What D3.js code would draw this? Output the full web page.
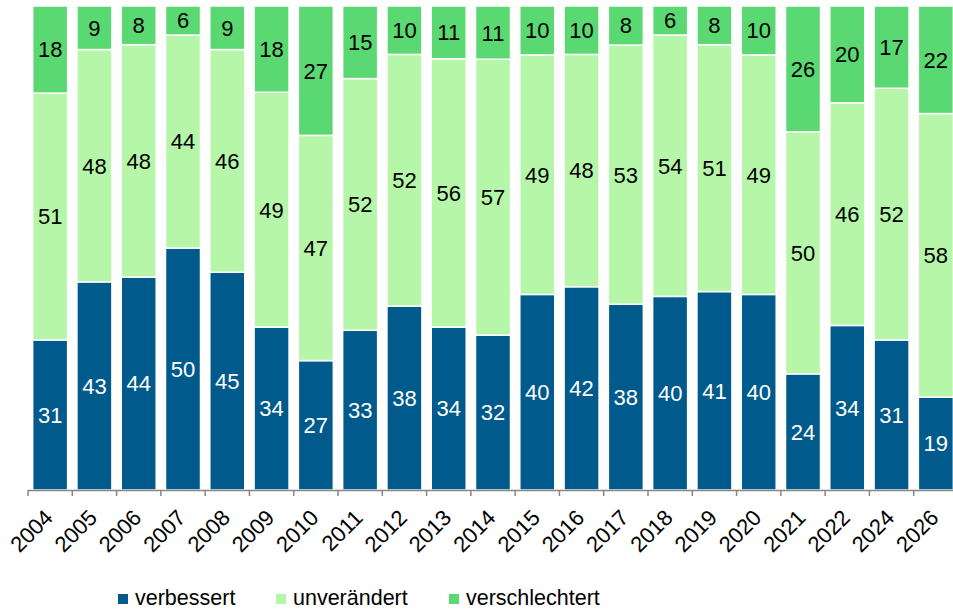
<!DOCTYPE html>
<html>
<head>
<meta charset="utf-8">
<script src="https://cdn.jsdelivr.net/npm/d3@7"></script>
<style>
  body { margin: 0; background: #fff; }
  text { font-family: "Liberation Sans", Arial, sans-serif; }
</style>
</head>
<body>
<script>
// years and shares (percent) per answer
var years = ["2004","2005","2006","2007","2008","2009","2010","2011","2012","2013","2014",
             "2015","2016","2017","2018","2019","2020","2021","2022","2024","2026"];
var verbessert     = [31,43,44,50,45,34,27,33,38,34,32,40,42,38,40,41,40,24,34,31,19];
var unveraendert   = [51,48,48,44,46,49,47,52,52,56,57,49,48,53,54,51,49,50,46,52,58];
var verschlechtert = [18, 9, 8, 6, 9,18,27,15,10,11,11,10,10, 8, 6, 8,10,26,20,17,22];

var keys = ["verbessert", "unverändert", "verschlechtert"];
var colors = ["#005A8C", "#B6F6A9", "#5AD871"];
var labelColors = ["#fff", "#000", "#000"];

var width = 953, height = 609;
var plotLeft = 28, plotRight = 958, plotTop = 6, plotBottom = 490;

var rows = years.map(function(y, i) {
  return { year: y, "verbessert": verbessert[i], "unverändert": unveraendert[i], "verschlechtert": verschlechtert[i] };
});

var stack = d3.stack().keys(keys).offset(d3.stackOffsetExpand);
var series = stack(rows);

var x = d3.scaleBand()
  .domain(years)
  .range([plotLeft, plotRight])
  .paddingInner(0.21)
  .paddingOuter(0.105);

var y = d3.scaleLinear().domain([0, 1]).range([plotBottom, plotTop]);

var color = d3.scaleOrdinal().domain(keys).range(colors);

var svg = d3.select("body").append("svg")
  .attr("width", width)
  .attr("height", height);

// bars
var layer = svg.selectAll(".layer")
  .data(series)
  .enter().append("g")
  .attr("class", "layer")
  .attr("fill", function(d) { return color(d.key); });

layer.selectAll("rect")
  .data(function(d) { return d; })
  .enter().append("rect")
  .attr("x", function(d) { return x(d.data.year); })
  .attr("y", function(d) { return y(d[1]); })
  .attr("width", x.bandwidth())
  .attr("height", function(d) { return y(d[0]) - y(d[1]); })
  .attr("stroke", "#fff")
  .attr("stroke-width", 1.5);

// value labels
layer.selectAll("text")
  .data(function(d, i) {
    return d.map(function(p) { return { p: p, key: d.key, idx: i }; });
  })
  .enter().append("text")
  .attr("x", function(d) { return x(d.p.data.year) + x.bandwidth() / 2; })
  .attr("y", function(d) { return (y(d.p[0]) + y(d.p[1])) / 2; })
  .attr("dy", "0.36em")
  .attr("text-anchor", "middle")
  .attr("font-size", 22)
  .attr("fill", function(d) { return labelColors[d.idx]; })
  .text(function(d) { return d.p.data[d.key]; });

// x axis with ticks on band boundaries
var step = x.step();
var boundaries = years.map(function(yr) { return x(yr) - step * x.paddingInner() / 2; });

svg.append("line")
  .attr("x1", plotLeft).attr("x2", plotRight)
  .attr("y1", plotBottom + 0.5).attr("y2", plotBottom + 0.5)
  .attr("stroke", "#868686")
  .attr("stroke-width", 1.5);

svg.selectAll(".tick")
  .data(boundaries)
  .enter().append("line")
  .attr("class", "tick")
  .attr("x1", function(d) { return d; }).attr("x2", function(d) { return d; })
  .attr("y1", plotBottom).attr("y2", plotBottom + 6)
  .attr("stroke", "#868686")
  .attr("stroke-width", 1.5);

svg.selectAll(".xlabel")
  .data(years)
  .enter().append("text")
  .attr("class", "xlabel")
  .attr("font-size", 22)
  .attr("text-anchor", "end")
  .attr("transform", function(d) {
    return "translate(" + (x(d) + x.bandwidth() / 2 + 4) + "," + (plotBottom + 29) + ") rotate(-45)";
  })
  .text(function(d) { return d; });

// legend
var legendX = [113, 271, 444];
var legend = svg.selectAll(".legend")
  .data(keys)
  .enter().append("g")
  .attr("class", "legend")
  .attr("transform", function(d, i) { return "translate(" + legendX[i] + ",0)"; });

legend.append("rect")
  .attr("x", 5).attr("y", 594)
  .attr("width", 10).attr("height", 10)
  .attr("fill", function(d) { return color(d); });

legend.append("text")
  .attr("x", 22).attr("y", 605)
  .attr("font-size", 21.5)
  .text(function(d) { return d; });
</script>
</body>
</html>
